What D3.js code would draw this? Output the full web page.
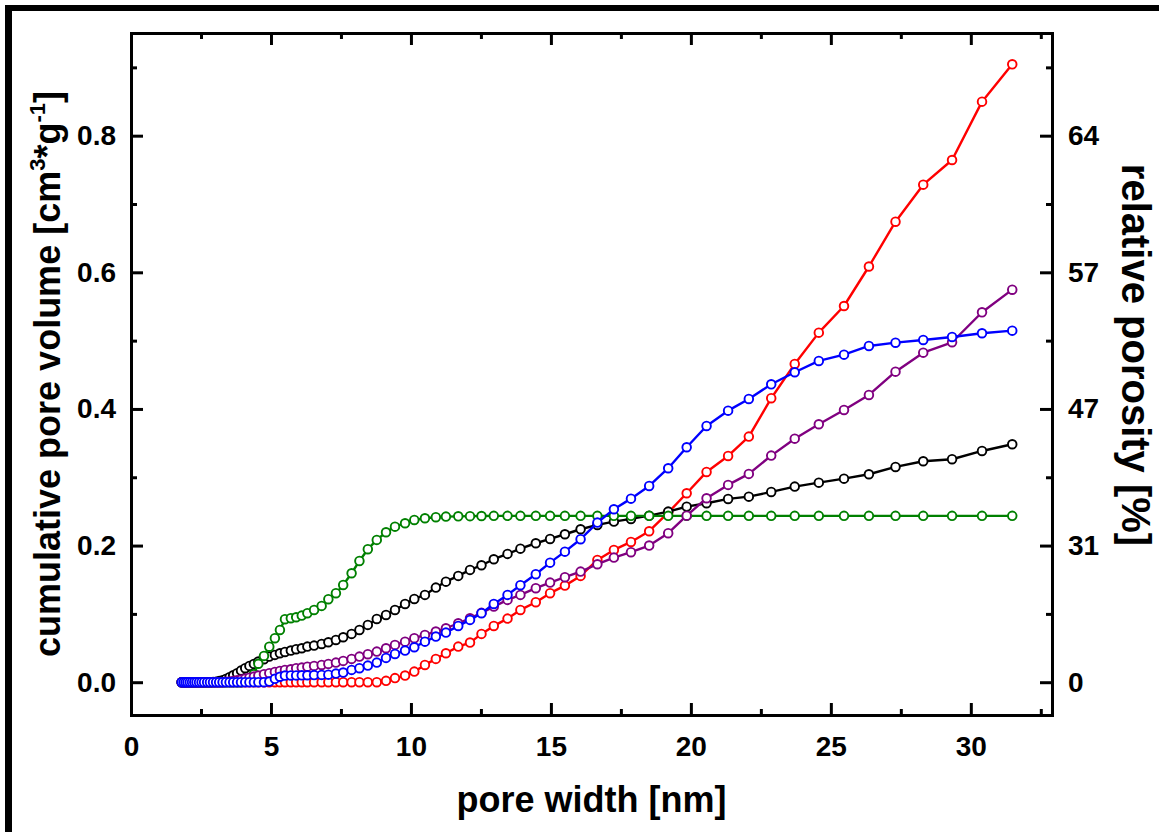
<!DOCTYPE html>
<html>
<head>
<meta charset="utf-8">
<style>
  body { margin: 0; background: #fff; }
  svg { display: block; font-family: "Liberation Sans", Arial, sans-serif; }
  .axis path, .axis line { stroke: #000; stroke-width: 3; }
  .axis .domain { stroke-linecap: square; }
  .axis text { font-size: 28px; font-weight: bold; fill: #000; font-family: "Liberation Sans", Arial, sans-serif; }
  .title { font-size: 36px; font-weight: bold; fill: #000; }
</style>
<script src="https://d3js.org/d3.v7.min.js"></script>
</head>
<body>
<script>
// pore width grid [nm], shared by every sample
const poreWidth = [
  1.81, 1.88, 1.95, 2.02, 2.10, 2.18, 2.26, 2.34, 2.43, 2.52,
  2.61, 2.72, 2.82, 2.93, 3.04, 3.15, 3.27, 3.39, 3.52, 3.65,
  3.79, 3.93, 4.08, 4.23, 4.39, 4.55, 4.75, 4.94, 5.14, 5.32,
  5.50, 5.71, 5.90, 6.10, 6.30, 6.54, 6.81, 7.05, 7.32, 7.58,
  7.88, 8.16, 8.46, 8.78, 9.11, 9.43, 9.79, 10.12, 10.50, 10.89,
  11.25, 11.69, 12.11, 12.52, 12.96, 13.45, 13.91, 14.46, 14.97, 15.50,
  16.06, 16.66, 17.25, 17.86, 18.51, 19.19, 19.85, 20.56, 21.33, 22.07,
  22.87, 23.71, 24.57, 25.47, 26.36, 27.31, 28.30, 29.33, 30.40, 31.48
];

// cumulative pore volume [cm3/g]
const volRed = [
  0, 0, 0, 0, 0, 0, 0, 0, 0, 0,
  0, 0, 0, 0, 0, 0, 0, 0, 0, 0,
  0, 0, 0, 0, 0, 0, 0, 0, 0, 0,
  0, 0, 0, 0, 0, 0, 0, 0, 0, 0,
  0, 0, 0, 0, 0.002, 0.006, 0.0097, 0.0155, 0.0253, 0.0341,
  0.0424, 0.0521, 0.0580, 0.0707, 0.0824, 0.0931, 0.1058, 0.1171, 0.1303, 0.1414,
  0.1556, 0.1790, 0.1936, 0.2053, 0.2210, 0.2483, 0.2766, 0.3078, 0.3312, 0.3595,
  0.4157, 0.4659, 0.5117, 0.5507, 0.6085, 0.6741, 0.7283, 0.7644, 0.8498, 0.9045
];
const volBlack = [
  0, 0, 0, 0, 0, 0, 0, 0, 0, 0,
  0, 0, 0, 0.0003, 0.0008, 0.0016, 0.0029, 0.0048, 0.0073, 0.0102,
  0.0132, 0.0170, 0.0205, 0.0239, 0.0268, 0.0302, 0.0337, 0.0375, 0.0400, 0.0424,
  0.0443, 0.0463, 0.0483, 0.0497, 0.0521, 0.0536, 0.0560, 0.0585, 0.0619, 0.0658,
  0.0707, 0.0765, 0.0839, 0.0926, 0.0985, 0.1058, 0.1146, 0.1219, 0.1278, 0.1385,
  0.1472, 0.1556, 0.1644, 0.1712, 0.1800, 0.1878, 0.1955, 0.2034, 0.2097, 0.2166,
  0.2239, 0.2302, 0.2351, 0.2390, 0.2438, 0.2497, 0.2570, 0.2620, 0.2683, 0.2716,
  0.2785, 0.2863, 0.2921, 0.2980, 0.3044, 0.3151, 0.3234, 0.3264, 0.3385, 0.3483
];
const volGreen = [
  0, 0, 0, 0, 0, 0, 0, 0, 0, 0,
  0, 0, 0, 0, 0, 0, 0, 0, 0, 0,
  0, 0, 0.001, 0.004, 0.012, 0.027, 0.0385, 0.052, 0.0644, 0.0765,
  0.0922, 0.0937, 0.0951, 0.0975, 0.1010, 0.1058, 0.1117, 0.1215, 0.1303, 0.1424,
  0.1595, 0.1775, 0.1947, 0.2083, 0.2195, 0.2277, 0.2327, 0.2375, 0.2400, 0.2415,
  0.2424, 0.2428, 0.2431, 0.2433, 0.2435, 0.2435, 0.2435, 0.2435, 0.2435, 0.2435,
  0.2435, 0.2435, 0.2435, 0.2435, 0.2435, 0.2435, 0.2435, 0.2435, 0.2435, 0.2435,
  0.2435, 0.2435, 0.2435, 0.2435, 0.2435, 0.2435, 0.2435, 0.2435, 0.2435, 0.2435
];
const volPurple = [
  0, 0, 0, 0, 0, 0, 0, 0, 0, 0,
  0, 0, 0, 0, 0, 0, 0, 0.0005, 0.0010, 0.0019,
  0.0029, 0.0038, 0.0053, 0.0067, 0.0082, 0.0097, 0.0117, 0.0132, 0.0151, 0.0165,
  0.0180, 0.0190, 0.0205, 0.0214, 0.0228, 0.0239, 0.0253, 0.0268, 0.0287, 0.0312,
  0.0341, 0.0375, 0.0410, 0.0448, 0.0497, 0.0546, 0.0594, 0.0644, 0.0692, 0.0741,
  0.0790, 0.0863, 0.0935, 0.1015, 0.1107, 0.1205, 0.1278, 0.1376, 0.1458, 0.1537,
  0.1619, 0.1727, 0.1824, 0.1903, 0.2000, 0.2181, 0.2438, 0.2693, 0.2888, 0.3049,
  0.3317, 0.3565, 0.3776, 0.3985, 0.4205, 0.4546, 0.4824, 0.4976, 0.5415, 0.5746
];
const volBlue = [
  0, 0, 0, 0, 0, 0, 0, 0, 0, 0,
  0, 0, 0, 0, 0, 0, 0, 0, 0, 0,
  0, 0, 0, 0, 0, 0, 0, 0.001, 0.005, 0.008,
  0.0097, 0.0099, 0.0100, 0.0101, 0.0102, 0.0104, 0.0107, 0.0111, 0.0126, 0.0141,
  0.0180, 0.0205, 0.0243, 0.0287, 0.0356, 0.0414, 0.0463, 0.0512, 0.0594, 0.0668,
  0.0726, 0.0824, 0.0912, 0.1010, 0.1146, 0.1278, 0.1420, 0.1581, 0.1750, 0.1911,
  0.2093, 0.2336, 0.2532, 0.2687, 0.2873, 0.3132, 0.3439, 0.3751, 0.3975, 0.4146,
  0.4361, 0.4537, 0.4703, 0.4795, 0.4922, 0.4970, 0.5010, 0.5054, 0.5108, 0.5146
];

// axis ticks
const xMajor = [0, 5, 10, 15, 20, 25, 30];
const xMinor = [2.5, 7.5, 12.5, 17.5, 22.5, 27.5, 32.5];
const yMajor = [0, 0.2, 0.4, 0.6, 0.8];
const yMinor = [0.1, 0.3, 0.5, 0.7, 0.9];
const porosityLabels = ["0", "31", "47", "57", "64"];

// drawn in this order, last one on top
const series = [
  { color: "#ff0000", values: volRed },
  { color: "#000000", values: volBlack },
  { color: "#008000", values: volGreen },
  { color: "#800080", values: volPurple },
  { color: "#0000ff", values: volBlue }
];

const W = 1159, H = 832;
const plotL = 131, plotR = 1052, plotT = 33, plotB = 715;

const svg = d3.select("body").append("svg")
  .attr("width", W)
  .attr("height", H);

svg.append("rect").attr("width", W).attr("height", H).attr("fill", "#fff");

// outer black frame (left and top edges visible)
svg.append("rect").attr("x", 5).attr("y", 5).attr("width", 7).attr("height", H - 5).attr("fill", "#000");
svg.append("rect").attr("x", 5).attr("y", 5).attr("width", W - 5).attr("height", 6).attr("fill", "#000");

const x = d3.scaleLinear().domain([0, 32.9]).range([plotL, plotR]);
const y = d3.scaleLinear().domain([-0.048, 0.9503]).range([plotB, plotT]);

// axes
svg.append("g").attr("class", "axis")
  .attr("transform", `translate(0,${plotB})`)
  .call(d3.axisBottom(x).tickValues(xMajor).tickSizeInner(-12).tickSizeOuter(0)
    .tickPadding(21).tickFormat(d3.format("d")));
svg.append("g").attr("class", "axis")
  .attr("transform", `translate(0,${plotB})`)
  .call(d3.axisBottom(x).tickValues(xMinor).tickSizeInner(-6).tickSizeOuter(0).tickFormat(""));

svg.append("g").attr("class", "axis")
  .attr("transform", `translate(0,${plotT})`)
  .call(d3.axisTop(x).tickValues(xMajor).tickSizeInner(-12).tickSizeOuter(0).tickFormat(""));
svg.append("g").attr("class", "axis")
  .attr("transform", `translate(0,${plotT})`)
  .call(d3.axisTop(x).tickValues(xMinor).tickSizeInner(-6).tickSizeOuter(0).tickFormat(""));

svg.append("g").attr("class", "axis")
  .attr("transform", `translate(${plotL},0)`)
  .call(d3.axisLeft(y).tickValues(yMajor).tickSizeInner(-12).tickSizeOuter(0)
    .tickPadding(15).tickFormat(d3.format(".1f")));
svg.append("g").attr("class", "axis")
  .attr("transform", `translate(${plotL},0)`)
  .call(d3.axisLeft(y).tickValues(yMinor).tickSizeInner(-6).tickSizeOuter(0).tickFormat(""));

svg.append("g").attr("class", "axis")
  .attr("transform", `translate(${plotR},0)`)
  .call(d3.axisRight(y).tickValues(yMajor).tickSizeInner(-12).tickSizeOuter(0)
    .tickPadding(16).tickFormat((d, i) => porosityLabels[i]));
svg.append("g").attr("class", "axis")
  .attr("transform", `translate(${plotR},0)`)
  .call(d3.axisRight(y).tickValues(yMinor).tickSizeInner(-6).tickSizeOuter(0).tickFormat(""));

// series: line + open circles
const line = d3.line()
  .x((d, i) => x(poreWidth[i]))
  .y(d => y(d));

series.forEach(s => {
  const g = svg.append("g");
  g.append("path")
    .attr("d", line(s.values))
    .attr("fill", "none")
    .attr("stroke", s.color)
    .attr("stroke-width", 2.4)
    .attr("stroke-linejoin", "round");
  g.selectAll("circle")
    .data(s.values)
    .join("circle")
    .attr("cx", (d, i) => x(poreWidth[i]))
    .attr("cy", d => y(d))
    .attr("r", 4.3)
    .attr("fill", "#fff")
    .attr("stroke", s.color)
    .attr("stroke-width", 1.9);
});

// titles
svg.append("text").attr("class", "title")
  .attr("x", (plotL + plotR) / 2).attr("y", 812)
  .attr("text-anchor", "middle")
  .text("pore width [nm]");

const yt = svg.append("text").attr("class", "title")
  .attr("font-size", 37)
  .attr("transform", "translate(60,374) rotate(-90)")
  .attr("text-anchor", "middle");
yt.append("tspan").text("cumulative pore volume [cm");
yt.append("tspan").attr("dy", -15).attr("font-size", 22).text("3");
yt.append("tspan").attr("dy", 15).text("*g");
yt.append("tspan").attr("dy", -15).attr("font-size", 22).text("-1");
yt.append("tspan").attr("dy", 15).text("]");

svg.append("text").attr("class", "title")
  .style("font-size", "40px")
  .attr("transform", "translate(1122,355) rotate(90)")
  .attr("text-anchor", "middle")
  .text("relative porosity [%]");
</script>
</body>
</html>
